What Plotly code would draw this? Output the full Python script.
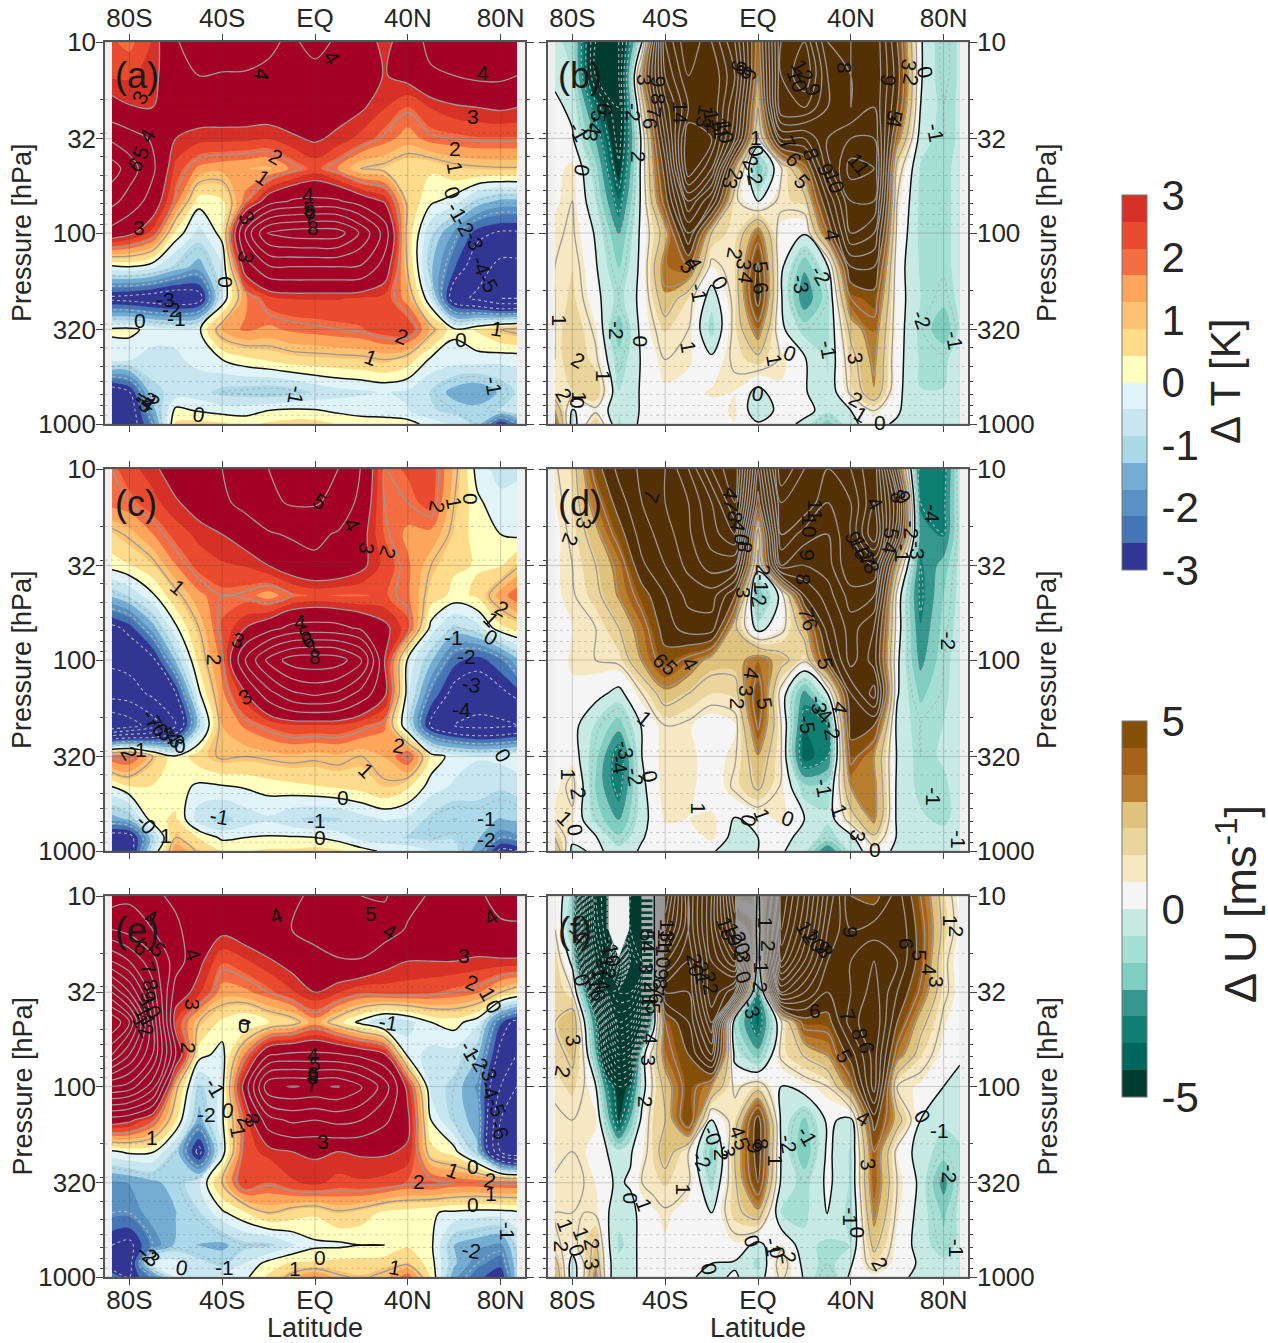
import plotly.graph_objects as go

LAT = [-87.5,-80,-70,-60,-50,-40,-30,-20,-10,0,10,20,30,40,50,60,70,80,87]
LAT_F = [-87.5,-80,-75,-70,-65,-60,-55,-50,-45,-40,-30,-20,-10,0,10,20,30,40,50,60,70,80,87]
PRESSURE = [10,15,22,32,46,68,100,150,220,320,460,680,850,1000]

DT_A = [
[2.2,2.0,2.6,3.95,4.3,4.4,4.3,4.1,3.9,4.2,3.9,3.6,2.7,3.6,4.2,4.4,4.5,4.5,4.4],
[2.5,2.5,2.75,3.7,4.0,3.95,3.95,3.9,3.8,3.8,3.7,3.5,2.95,3.3,3.9,4.0,4.2,4.2,4.0],
[3.3,3.05,3.0,3.4,3.5,3.5,3.5,3.5,3.5,3.4,3.3,3.1,2.6,2.1,2.6,2.9,3.0,3.1,3.0],
[4.8,4.4,3.9,3.0,2.75,2.72,2.7,2.6,2.9,3.1,2.85,2.4,1.9,1.5,1.9,2.0,2.1,2.1,2.1],
[6.5,5.5,4.2,2.4,1.6,1.4,1.3,1.2,1.8,2.3,1.7,0.9,0.8,0.5,0.5,0.8,0.9,0.95,0.95],
[5.3,4.6,3.6,1.9,0.2,0.35,1.9,3.5,4.1,4.2,4.1,3.5,2.9,0.8,0.1,-0.2,-1.0,-1.4,-1.4],
[3.6,3.2,2.4,0.3,-0.6,0.2,5.3,8.1,8.5,8.6,8.5,6.8,4.6,0.7,-0.8,-1.8,-2.8,-3.1,-3.1],
[-0.1,0.0,-0.3,-1.0,-1.5,-0.5,3.5,4.9,5.0,5.0,5.0,4.9,3.6,0.9,-1.2,-2.5,-3.5,-4.3,-4.3],
[-3.2,-3.3,-3.5,-3.7,-3.4,-0.4,1.6,2.4,2.6,2.6,2.6,2.5,2.4,1.5,-0.5,-3.6,-4.2,-5.0,-5.0],
[0.1,0.15,-0.2,-0.3,-0.1,1.4,1.8,1.6,1.8,1.9,2.0,2.1,2.4,2.5,1.2,0.1,0.5,1.0,1.2],
[-0.3,-0.4,-0.6,-0.5,-0.3,0.0,0.3,0.5,0.7,0.75,0.8,0.85,1.0,0.7,-0.1,-0.2,-0.2,-0.3,-0.3],
[-3.5,-3.0,-1.0,-0.7,-0.7,-1.0,-1.1,-1.2,-1.1,-0.8,-0.6,-0.5,-0.4,-0.5,-0.9,-1.5,-1.7,-1.2,-0.8],
[-3.5,-3.5,-1.5,0.15,-0.05,-0.2,-0.2,0.0,0.1,0.05,-0.1,-0.15,-0.2,-0.4,-0.8,-1.0,-1.1,-0.8,-0.5],
[-3.2,-3.5,-2.0,0.5,0.6,0.5,0.3,0.5,0.6,0.6,0.4,0.2,0.2,0.2,-0.2,-0.5,-1.0,-3.0,-2.0],
]

DU_B = [
[-0.5,-1.0,-6,-6,0.0,11,14,12,9,3.5,11,12,8,8,9,5,0.1,-1.2,-0.6],
[-0.2,-0.7,-6,-6,3,10,13,13,10,3,11,13,9,8,9,5.5,0.1,-1.2,-0.6],
[0.2,-0.2,-3.5,-6,1.5,8.5,12,13,9,2,11,11,9,8,9,5,0,-1,-0.6],
[0.6,0.1,-2.2,-5.5,0.3,7,14,13,8,0.8,7,7,9,10,10,3.5,-0.4,-1,-0.6],
[0.5,0.9,-1.2,-4.8,0.4,5.5,14,11,3,-2,0.9,3.5,8.5,11.5,11,1.5,-0.8,-0.9,-0.5],
[0.6,1.0,-0.7,-3.5,0.3,4.5,10,7,1.2,-0.1,1.3,1.6,6,10,10,1,-0.9,-0.9,-0.5],
[0.9,1.1,-0.1,-2.2,0.3,2.5,7,2.0,1.1,3.5,0.4,0.1,4,9,8,0.7,-0.9,-0.9,-0.5],
[1,1.4,0.1,-1.5,0.3,3.5,4,0.7,1.4,5.2,0.2,-2,-0.1,6,6,0.4,-0.8,-0.9,-0.5],
[1,1.6,0.3,-1,0.3,2.7,1.4,-0.5,1.3,5.5,0.1,-2.8,-1,4,4.6,0.4,-0.7,-1.2,-0.5],
[1,2,0.8,-1.8,0.3,1.5,1.0,-1.0,1.3,3.5,0.2,-1,-0.9,2.3,3.6,0.4,-0.9,-2,-0.6],
[1,2,1.2,-1.2,0.1,1.0,0.8,0.2,1.2,1.7,0.9,0.1,-0.8,1.6,3.2,0.3,-0.8,-0.8,-0.5],
[1.3,1.4,2,-0.7,0.1,0.6,0.5,0.8,0.7,-0.3,0.6,0.1,-0.7,1.2,2.8,0.2,-0.7,-0.7,-0.4],
[3,-0.1,0.8,-0.7,0.1,0.1,0.4,0.5,0.8,-0.6,0.3,0.4,-0.5,0,1,0.1,-0.6,-0.6,-0.3],
[4,-0.5,2,-0.8,0.2,0.4,0.3,0.5,0.7,0.1,0.5,-0.3,-1.8,-0.1,0.2,-0.1,-0.5,-0.5,-0.3],
]

DT_C = [
[2.0,2.4,2.8,3.5,3.9,4.0,4.5,5.0,5.6,5.6,5.0,3.95,2.0,2.2,2.4,1.2,-0.2,-0.6,-0.5],
[1.9,2.0,2.4,2.9,3.4,3.8,4.3,4.8,5.1,5.1,4.7,3.7,2.0,2.0,2.3,1.0,0.1,-0.3,-0.3],
[0.8,1.1,1.7,2.3,2.7,3.0,3.4,3.9,4.1,4.2,3.9,3.3,2.1,1.6,1.6,0.8,0.2,0.0,-0.1],
[0.2,0.4,0.8,1.7,2.3,2.5,2.6,3.0,3.5,3.8,3.7,3.2,2.4,1.8,1.0,0.5,0.4,0.4,0.9],
[-1.2,-0.8,-0.1,0.8,1.6,2.0,1.9,1.5,2.0,2.2,2.1,2.1,2.2,1.8,0.7,0.3,0.5,1.5,2.0],
[-3.2,-2.8,-1.5,-0.1,1.0,2.2,3.0,3.6,4.3,4.4,4.3,3.8,3.2,2.3,-0.2,-1.0,-0.6,0.3,0.6],
[-3.8,-3.6,-3.2,-1.2,0.6,1.9,5.0,7.3,8.5,8.7,8.5,7.2,3.0,-0.1,-1.2,-2.4,-2.8,-2.2,-1.4],
[-4.6,-4.5,-3.8,-3.0,-0.1,1.6,2.9,4.6,5.8,6.2,5.8,4.6,3.2,-0.3,-2.2,-3.3,-3.4,-3.2,-2.8],
[-7.0,-6.5,-5.5,-4.0,-1.0,1.3,1.8,2.2,2.5,2.5,2.5,2.2,1.8,-0.6,-3.2,-4.0,-4.3,-4.2,-4.0],
[2.1,2.2,1.0,0.1,0.7,1.1,1.0,1.1,1.2,1.1,1.2,1.0,1.3,2.2,0.3,-0.2,-0.4,-0.3,-0.1],
[0.0,0.4,0.4,0.2,-0.1,-0.05,0.05,0.2,0.3,0.4,0.5,0.6,0.9,0.5,-0.2,-0.5,-0.6,-0.8,-0.7],
[-1.5,-1.2,0.3,0.5,-0.7,-1.0,-0.7,-0.5,-0.8,-0.95,-0.9,-0.6,-0.4,-0.5,-1.0,-1.3,-1.2,-1.3,-1.2],
[-3.5,-3.4,-1.0,1.0,0.4,-0.1,0.0,0.05,0.05,0.0,-0.2,-0.6,-0.7,-0.9,-1.0,-0.9,-1.2,-2.0,-1.8],
[-3.5,-3.5,-0.5,1.6,0.9,0.4,0.4,0.5,0.5,0.6,0.5,0.2,-0.1,-0.1,-0.4,-0.7,-1.5,-3.2,-3.0],
]

DU_D = [
[0.9,1.5,4.5,6.3,7.2,8,10,13,15,6,14,12,11,12,14,5,-3.5,-3.5,-0.4],
[0.7,1.4,3.5,5.5,7,8,9,11,14,4.5,12,12,10,11,14,8,-3,-3.2,-0.5],
[0.5,1.2,2.6,4.5,6.5,7.5,8.8,10.5,12,1.5,11,9.5,9,11,15,7,-2.5,-3,-0.6],
[0.6,1.0,2.0,3.3,5.8,7,8.3,9.5,9,0.5,9,8,8.5,11,11,2.5,-3,-1.8,-0.5],
[0.6,0.9,1.7,3,4.5,6,7.3,7.5,5,-2,0.3,6,7.5,9.5,9,0.6,-3.2,-1.4,-0.5],
[0.5,0.7,1.0,2.0,3.5,5.5,6.5,6.5,2.2,-0.4,0.7,2.5,6.5,8.5,7,0.5,-2.8,-1.2,-0.4],
[0.4,0.8,1.0,1.2,3,4.6,3.7,2.5,2.4,3.5,2.4,1.2,5,8.5,6.5,0.2,-2.4,-1.0,-0.3],
[0.2,0.6,0.3,-0.3,1.0,2.6,2.0,1.4,1.6,4.7,0.6,-2.5,0,6,8.5,0.1,-1.6,-0.9,-0.3],
[0.1,0.3,-0.8,-1.8,0.1,1.0,0.8,0.3,0.6,4.2,1.0,-3.5,-3.0,5.5,5,-0.3,-1,-0.7,-0.3],
[0.1,0.5,-1.2,-3.6,0.0,1.0,0.9,0.4,0.9,2.8,1.0,-4,-3,4.4,3,-0.1,-1.0,-0.6,-0.3],
[0.5,1.3,-1.5,-3.4,-0.2,1.0,1.0,0.1,1.2,2.2,0.9,-1.2,-1,3,3.3,-0.2,-0.9,-0.9,-0.3],
[0.9,0.8,-1,-2.2,-0.3,0.8,0.7,0.9,-0.1,0.3,0.9,0,-0.6,1.5,3.2,-0.2,-0.6,-0.9,-0.4],
[2,0.3,0.1,-1.3,-0.05,0.4,0.2,0.9,-0.4,0.0,0.3,-0.3,-1.0,-0.3,1.8,-0.1,-0.5,-0.4,-0.2],
[3,-0.3,0.2,-0.4,0.1,0.2,0.1,0.1,-0.5,0.0,0.1,-0.5,-3,-0.5,0.5,-0.2,-0.4,-0.5,-0.2],
]

DT_E = [
[4.5,4.8,4.1,3.9,3.9,4.0,4.0,3.8,3.8,4.2,4.7,5.0,5.1,4.3,3.9,3.8,3.9,4.2,4.3],
[6.0,5.6,5.0,4.1,3.7,3.2,3.5,3.8,4.0,4.2,4.7,4.9,4.5,3.9,3.7,3.6,3.6,3.9,3.9],
[9.0,8.0,6.3,4.5,3.2,2.2,2.5,2.9,3.3,3.8,3.9,3.9,3.3,3.0,3.0,3.0,2.9,2.9,2.9],
[13.0,11.0,7.5,3.5,2.7,1.5,1.6,2.0,2.5,3.0,2.6,2.2,2.3,2.3,2.2,2.0,1.8,1.0,0.6],
[17.0,15.0,9.0,2.5,1.0,0.3,-0.1,0.4,0.7,1.5,0.6,-0.2,-0.9,-0.6,0.0,0.2,-0.3,-2.5,-3.3],
[14.0,12.0,9.0,4.0,0.2,-0.2,1.8,3.9,4.2,4.2,4.1,3.7,3.1,-0.2,-0.6,-0.6,-1.2,-3.3,-4.0],
[9.0,8.6,6.5,1.2,-1.0,-0.2,3.5,7.8,8.05,7.9,8.05,7.2,5.5,2.7,-0.6,-1.0,-1.8,-4.0,-5.0],
[3.5,3.2,2.2,0.5,-1.5,-0.1,2.3,4.6,5.2,5.0,5.3,5.0,4.2,3.2,0.0,-1.0,-1.5,-5.0,-5.0],
[-0.1,0.1,0.05,-1.0,-3.3,-0.3,2.4,2.7,3.0,3.1,3.0,3.1,3.1,2.9,0.6,0.2,-1.2,-5.0,-6.0],
[-1.8,-1.7,-1.4,-1.1,-0.5,1.0,2.6,2.1,2.5,2.7,2.4,2.5,2.4,2.1,2.2,2.0,2.0,2.1,2.1],
[-2.0,-2.0,-1.5,-1.3,-0.9,-0.1,0.4,1.0,0.7,0.5,0.9,0.7,0.3,0.2,0.05,-0.1,-0.2,-0.2,-0.1],
[-3.0,-3.2,-2.0,-1.2,-1.3,-1.4,-1.0,-1.0,-0.5,-0.1,-0.1,0.0,0.0,0.35,0.1,-1.3,-1.6,-1.8,-0.8],
[-3.8,-3.3,-0.2,-0.2,-0.7,-1.0,-0.4,0.2,0.5,0.5,0.6,0.6,0.7,0.9,0.2,-1.2,-2.0,-2.4,-1.0],
[-2.0,-3.0,-2.0,-0.4,-0.6,-0.4,-0.1,0.5,1.2,1.8,1.1,0.9,1.2,2.0,0.4,-1.6,-2.4,-3.0,-1.0],
]

DU_F = [
[0.8,-1,-10,-18,-20,None,-20,-20,-1,16,9,14,22,-1.0,18,14,9,5,4.5,6.5,4,1.5,0.5],
[1,-1.5,-11,-17,-20,None,-20,-20,-1,14,9,14,20,-1.5,17,13,8,6,6.5,7,4.5,1.7,0.6],
[1.7,-0.3,-8,-15,-18,-8,-18,-20,-1,10,8,13,16,-1,15,11,7,7,8,7,4.5,1.2,0.4],
[2,1,-2,-10,-16,-18,-18,-15,-0.5,7,7,13,10,-3,10,8,6,7,8.5,6,3.8,1.2,0.5],
[2,2.8,0.2,-3,-10,-15,-14,-10,-0.5,4,6,11,-1,-3.8,0.9,4.5,4.5,7.5,9,5,2.4,0.8,0.3],
[1.6,2.3,0.9,-2,-7,-10,-9,-0.5,1.5,3.5,5,8,-0.3,-1.8,1.2,2.1,3,5.5,8.5,3.5,1.5,0.5,0.2],
[1.2,1.6,1.0,0.1,-3,-5,-4,-0.5,1.2,2.3,4.6,3,0.8,1.5,0,0.5,1.0,3.5,8.5,1.0,0.6,0.0,-0.4],
[0.8,1.0,1.0,0.9,-1.5,-4.5,-2,0.3,1.5,2,5,0.0,1.4,5.5,-0.2,-1.6,0.2,-0.3,5.5,2.5,0,-0.6,-0.5],
[0.8,1.0,0.8,0.3,0.0,-0.5,-0.1,0.6,1.5,2.6,1.0,-1.7,2,5.6,-0.1,-2,0.2,-0.8,4,0.7,-0.4,-1.0,-0.8],
[1.1,1.3,1.0,0.7,0.1,-0.1,0.1,1.0,1.3,1.5,1.1,-1.0,1.8,5,-0.2,-1,0.2,-0.8,3.9,1.0,-0.2,-2.5,-0.7],
[1.0,1.0,1.0,0.9,0.1,-0.6,-0.3,0.3,0.6,0.9,0.3,0,1.7,2.6,-0.8,-0.9,0.1,-1,3.3,0.8,-0.3,-1.6,-0.5],
[1.2,0.6,1.5,2.2,0.2,-0.8,-0.6,0.5,0.6,0.6,0.0,0.5,0.6,-0.3,0.8,-0.5,-0.9,-0.7,2.3,0.5,-0.3,-1.2,-0.5],
[2.5,-0.5,1.0,2.8,0.3,-0.6,-0.5,0.4,0.5,0.5,0.1,0,-0.1,-0.9,1.5,-0.3,-1,-0.1,1.5,0.4,-0.1,-0.5,-0.3],
[3,-0.6,1.0,3.4,0.3,-0.6,-0.5,0.4,0.5,0.7,0.1,-0.2,0.1,-0.5,1.2,-0.1,-1.5,0.2,0.5,0.1,-0.1,-0.3,-0.2],
]

# contour labels: latitude, log10(pressure), text, rotation
LABELS_A = [(-75.5,1.29,"3",-60),(-72.5,1.49,"4",-60),(-75,1.58,"5",-70),(-77.5,1.64,"6",-50),(-76,1.97,"3",0),
(-17,1.60,"2",30),(-22.5,1.71,"1",35),(-23,1.17,"4",100),(7.3,1.08,"4",60),(72.4,1.16,"4",0),(68,1.39,"3",0),
(60.5,1.56,"2",0),(60.5,1.66,"1",80),(59,1.79,"0",70),(61,1.89,"-1",60),(64.6,1.965,"-2",60),(68.6,2.04,"-3",70),
(71.6,2.17,"-4",70),(74.6,2.26,"-5",60),(-3,1.80,"4",0),(-2.4,1.87,"5",0),(-2,1.89,"6",0),(-2,1.91,"7",0),(-0.8,1.97,"8",0),
(-29.4,1.92,"3",60),(-30,2.13,"3",100),(-38.6,2.26,"0",90),(-64.6,2.35,"-3",0),(-61.7,2.40,"-2",0),(-59.6,2.45,"-1",0),
(-75.5,2.46,"0",0),(37.4,2.54,"2",20),(24,2.65,"1",20),(63,2.56,"0",0),(78.3,2.50,"1",10),(-8,2.85,"-1",100),
(-50,2.95,"0",10),(76.8,2.80,"-1",80),(-72.5,2.86,"-3",40),(-71,2.87,"-2",40),(-73,2.88,"-4",40),(-74,2.89,"-5",40)]

LABELS_B = [(-66,1.335,"-6",100),(-68.5,1.37,"-5",100),(-70,1.44,"-4",100),(-72,1.475,"-3",100),(-77.4,1.47,"-1",60),(-76,1.67,"0",100),
(-49,1.2,"3",90),(-42.5,1.21,"9",90),(-43,1.30,"8",90),(-44.7,1.37,"7",90),(-46,1.43,"6",90),(-53.6,1.37,"-2",90),(-51.4,1.6,"2",90),
(-33.6,1.37,"14",90),(-23,1.39,"13",100),(-19.5,1.415,"12",80),(-16.5,1.45,"11",80),(-14.3,1.47,"10",80),(-8.3,1.125,"9",100),(-6,1.15,"8",100),(-3.9,1.17,"6",100),
(-0.9,1.5,"1",0),(-0.9,1.57,"0",80),(-3,1.63,"2",60),(-1.6,1.70,"-2",80),(-9.8,1.695,"2",100),(-12,1.74,"3",100),
(19,1.15,"12",60),(17,1.2,"10",70),(23.6,1.25,"9",70),(37,1.135,"8",90),(13,1.53,"7",60),(23,1.59,"8",70),(15.5,1.615,"6",50),(29,1.67,"9",70),(19,1.73,"5",50),(33,1.73,"10",70),(43.7,1.64,"11",50),
(56.3,1.2,"9",100),(65,1.12,"3",100),(66,1.2,"2",100),(72,1.16,"0",80),(59,1.39,"5",100),(59,1.42,"4",100),(76.4,1.475,"-1",80),
(31.8,2.01,"4",80),(-9.8,2.11,"2",100),(-6,2.165,"3",100),(-5.3,2.235,"4",100),(1.3,2.18,"5",80),(1.3,2.29,"6",80),(-30,2.175,"5",50),(-27.6,2.16,"4",60),(-16.5,2.26,"0",60),(-25.4,2.31,"-1",80),
(18.4,2.27,"-3",80),(27.3,2.22,"-2",60),(70.4,2.455,"-2",70),(84.5,2.56,"-1",80),(30.3,2.61,"-1",80),(14,2.63,"0",20),(7.3,2.665,"1",80),(-30,2.6,"1",80),(42.2,2.655,"3",80),(42.2,2.87,"2",30),(44.4,2.95,"1",30),(52.6,2.99,"0",0),(0,2.84,"0",10),
(-61,2.51,"-2",90),(-50.7,2.57,"0",90),(-77.4,2.67,"2",30),(-85.6,2.46,"1",90),(-66.3,2.75,"1",90),(-83.4,2.85,"2",60),(-76.7,2.86,"1",90),(-78,2.89,"0",90)]

LABELS_C = [(2.2,1.17,"5",30),(15.8,1.29,"4",60),(22.3,1.415,"3",100),(31.6,1.44,"2",110),(52.7,1.2,"2",100),(60,1.18,"1",80),(67,1.16,"0",90),
(-59,1.62,"1",40),(80.5,1.73,"2",30),(76,1.79,"1",45),(76,1.88,"0",30),(59.6,1.88,"-1",0),(65.4,1.98,"-2",0),(67.5,2.13,"-3",10),(63,2.26,"-4",0),
(-6.5,1.8,"4",0),(-4.3,1.86,"5",-20),(-3,1.9,"6",-30),(-0.7,1.93,"7",-40),(0,1.98,"8",0),(-33,1.9,"3",20),(-43,2.0,"2",90),(-30,2.19,"3",-30),
(-70,2.31,"-7",60),(-67.5,2.35,"-6",60),(-64.7,2.375,"-5",60),(-62,2.39,"-4",60),(-60,2.41,"-3",60),(-58,2.45,"0",0),(-80,2.49,"2",60),(-75,2.47,"1",0),
(36,2.45,"2",10),(22,2.58,"1",45),(12,2.72,"0",0),(81,2.5,"0",60),(-41,2.82,"-1",10),(0.7,2.84,"-1",0),(74,2.83,"-1",0),(74,2.94,"-2",0),(2,2.93,"0",0),(-72.5,2.86,"-0",45),(-64,2.92,"1",0)]

LABELS_D = [(-75,1.285,"3",100),(-81,1.37,"2",110),(-46,1.145,"7",110),(-12,1.13,"4",100),(-11.4,1.19,"7",100),(-10,1.25,"8",100),(-8.5,1.30,"4",100),(-7,1.37,"0",100),(-5.6,1.41,"8",100),
(25,1.215,"11",90),(22.4,1.30,"10",90),(21,1.45,"9",90),(19.5,1.58,"8",90),(21,1.755,"7",80),(22.4,1.815,"6",70),(28.9,2.02,"5",80),(35.3,2.25,"4",100),
(-42,2.0,"6",45),(-38,2.04,"5",45),(-29.3,2.02,"4",60),(-2.7,2.07,"4",100),(-4.9,2.16,"3",90),(-9,2.23,"2",90),(2.7,2.23,"5",80),(-48.7,2.305,"1",40),
(-6.3,1.65,"3",90),(0,1.67,"-2",80),(1.5,1.6,"-1",90),(2.3,1.53,"2",90),(26,2.235,"-3",80),(28,2.28,"-4",45),(21,2.34,"-5",80),(31.7,2.37,"-2",80),(28.2,2.67,"-1",80),(35,2.79,"1",70),(13,2.83,"0",20),(-4,2.84,"0",100),(1.6,2.81,"1",70),
(-57.3,2.47,"-3",80),(-59.5,2.55,"-4",80),(-53,2.61,"-2",80),(-46.6,2.61,"0",80),(-77.4,2.70,"2",80),(-81.8,2.6,"1",90),(-83,2.83,"1",45),(-79,2.89,"0",80),
(-25.7,2.78,"1",90),(82,1.9,"-2",90),(75,1.23,"-4",90),(66.2,1.32,"-2",90),(69,1.425,"-3",90),(75.6,2.715,"-1",90),(86.4,2.94,"-1",90),(43,2.92,"3",100),(50.4,2.99,"0",0),
(50.4,1.18,"4",60),(60.5,1.145,"8",60),(62.6,1.15,"9",60),(57.6,1.337,"5",100),(56.9,1.415,"4",100),(62.6,1.44,"-1",90),(41,1.36,"9",70),(44,1.41,"16",70),(46,1.45,"17",70),(48,1.485,"18",70)]

LABELS_E = [(-70.5,1.115,"4",20),(-67.6,1.28,"5",45),(-75,1.27,"6",30),(-72,1.38,"7",70),(-71,1.47,"8",80),(-72,1.53,"9",80),(-71,1.58,"10",60),(-73,1.63,"11",60),(-74,1.68,"12",60),
(-52.4,1.31,"4",70),(-53,1.57,"3",90),(-54.6,1.80,"2",90),(-17,1.1,"4",-20),(24,1.09,"5",0),(32.3,1.185,"4",30),(76,1.11,"4",-30),(64.2,1.31,"3",0),(67.5,1.455,"2",20),(74.7,1.515,"1",60),(77,1.58,"0",60),
(-30.6,1.68,"0",0),(31.6,1.665,"-1",10),(66.8,1.81,"-1",60),(70.4,1.87,"-2",60),(74.7,1.92,"-3",70),(75.4,2.02,"-4",70),(78.3,2.11,"-5",70),(79.7,2.23,"-6",70),
(-43,2.005,"-1",60),(-46.7,2.145,"-2",0),(-37.4,2.125,"0",10),(-33,2.24,"1",80),(-30,2.18,"2",60),(-27,2.18,"3",60),(-0.7,1.83,"4",0),(0,1.88,"5",0),(-0.7,1.93,"6",0),(-0.7,1.95,"8",0),(-1.4,1.99,"7",0),
(3.6,2.29,"3",0),(-70.4,2.27,"1",0),(68,2.42,"0",0),(59.6,2.44,"1",20),(75.4,2.495,"2",10),(76,2.56,"1",0),(45,2.5,"2",0),(68,2.62,"0",0),(83,2.76,"-1",90),(67.5,2.86,"-2",10),(2,2.90,"0",0),(-8.6,2.955,"1",0),(34.5,2.95,"1",10),(-39,2.95,"-1",0),(-57.5,2.95,"0",10),(-72,2.88,"-2",40),(-71,2.89,"-3",40)]

LABELS_F = [(-78,1.2,"-4",40),(-76,1.44,"0",70),(-63,1.29,"-10",80),(-65,1.36,"-12",80),(-67.4,1.42,"-14",80),(-69.5,1.47,"-16",80),
(-47.3,1.21,"5",90),(-47.3,1.27,"4",90),(-48,1.375,"3",90),(-46,1.48,"2",90),(-47,1.55,"1",90),(-45,1.59,"5",90),(-44,1.54,"6",90),(-43,1.5,"7",90),(-42,1.46,"8",90),(-41.5,1.41,"9",90),(-41,1.32,"10",90),(-40,1.23,"11",90),(-39,1.18,"13",90),
(-46.6,1.75,"4",90),(-47.3,1.865,"3",90),(-48.7,2.08,"2",90),(-27,1.36,"20",80),(-24,1.40,"21",80),(-21,1.455,"22",80),(-13.5,1.17,"18",70),(-10.6,1.2,"19",70),(-7.7,1.246,"20",70),(-7,1.31,"2",90),(-6.3,1.325,"3",90),
(3,1.14,"1",90),(4.4,1.264,"2",90),(1.6,1.36,"-1",90),(0.9,1.48,"2",90),(-6.3,1.43,"0",70),(-2.7,1.595,"-3",70),(21.4,1.19,"12",60),(24.3,1.23,"10",60),(27.9,1.27,"9",60),(29.3,1.29,"8",60),(24.6,1.6,"6",0),(40,1.19,"9",90),
(64,1.25,"6",90),(70,1.315,"5",90),(74,1.385,"4",90),(77,1.45,"3",90),(82.8,1.13,"1",90),(85.6,1.185,"2",90),(38.9,1.63,"7",70),(44,1.725,"8",80),(46.8,1.795,"6",80),(37.5,1.84,"5",60),(45.4,2.17,"4",30),(47.5,2.41,"3",80),
(71,2.155,"0",60),(78.3,2.23,"-1",0),(82.6,2.46,"-2",90),(85.6,2.85,"-1",90),(39.5,2.685,"-1",90),(43,2.765,"0",90),(52.4,2.93,"2",60),(21.4,2.26,"-1",60),(13,2.3,"-2",80),(7.3,2.39,"1",90),(1.6,2.3,"8",90),(-1.3,2.32,"9",80),
(-12.6,2.34,"3",90),(-15.5,2.36,"2",90),(-8.5,2.24,"4",70),(-7,2.3,"5",70),(-19.4,2.26,"-0",70),(-24.4,2.39,"-2",60),(-32,2.54,"1",90),(-55,2.59,"0",90),(-49.2,2.62,"1",70),
(-79.6,1.76,"3",80),(-84,1.925,"2",100),(-83,2.73,"1",70),(-84.5,2.84,"2",90),(-76,2.77,"1",70),(-71.7,2.825,"2",80),(-71.7,2.93,"3",80),(-78,2.86,"0",70),(-21,2.96,"0",80),(-2.7,2.81,"0",70),(6.5,2.84,"-1",80),(8.5,2.87,"0",80),(13,2.90,"2",80)]

T_COLORS = ["#313695","#313695","#4575b4","#5a91c3","#74add1","#abd9e9","#c8e6f0","#e0f3f8",
            "#ffffbf","#fedc8c","#fdc373","#fda55a","#f46d43","#ea4a2e","#d73027","#a50026"]
U_COLORS = ["#003c30","#003c30","#01665e","#0f7f73","#35978f","#80cdc1","#a6e0d5","#c7eae5",
            "#f5f5f5","#f6e8c3","#ebd59c","#dfc27d","#b87d2d","#a6611a","#85500a","#543005"]

X_TICKS = [-80,-40,0,40,80]
X_TEXT = ["80S","40S","EQ","40N","80N"]
Y_TICKS = [10,32,100,320,1000]
Y_MINOR = [20,30,40,50,60,70,80,90,200,300,400,500,600,700,800,900]
INK = "#262626"
FONT = "Liberation Sans"
W, H = 1268, 1343
ROWS = [(42,424),(469,851),(896,1277)]
COLS = [(105,525),(548,968)]


def scale(colors):
    n = len(colors) - 1
    return [[i / n, c] for i, c in enumerate(colors)]


def steps(colors):
    n = len(colors)
    out = []
    for i, c in enumerate(colors):
        out += [[i / n, c], [(i + 1) / n, c]]
    return out


panels = [("(a)",DT_A,LABELS_A,0,0,LAT),("(b)",DU_B,LABELS_B,1,0,LAT),("(c)",DT_C,LABELS_C,0,1,LAT),
          ("(d)",DU_D,LABELS_D,1,1,LAT),("(e)",DT_E,LABELS_E,0,2,LAT),("(f)",DU_F,LABELS_F,1,2,LAT_F)]

fig = go.Figure()
anns = []
for k, (tag, z, labels, col, row, lats) in enumerate(panels, start=1):
    xa, ya = f"x{k}", f"y{k}"
    is_t = col == 0
    colors = T_COLORS if is_t else U_COLORS
    size = 3/7 if is_t else 10/14
    top = 3 if is_t else 5
    if k <= 2:
        # a small cell hidden under the contour fill: it only carries the colour bar
        cb = dict(lenmode="pixels", len=375 if is_t else 376, thicknessmode="pixels", thickness=25,
                  x=1122/W, xanchor="left", xpad=0, ypad=0,
                  y=1-(382.5/H if is_t else 909/H), yanchor="middle",
                  tickmode="array", tickvals=[-3,-2,-1,0,1,2,3] if is_t else [-5,0,5],
                  ticktext=["-3","-2","-1","0","1","2","3"] if is_t else ["-5","0","5"],
                  ticks="outside", ticklen=6, tickcolor="rgba(0,0,0,0)",
                  tickfont=dict(family=FONT, size=42, color=INK),
                  outlinecolor="#777", outlinewidth=1)
        fig.add_trace(go.Heatmap(x=[0, 2], y=[100, 110], z=[[-top, top], [-top, top]], zmin=-top, zmax=top,
                                 xaxis=xa, yaxis=ya, colorscale=steps(colors[1:-1]),
                                 showscale=True, colorbar=cb, hoverinfo="skip"))
    fig.add_trace(go.Contour(x=lats, y=PRESSURE, z=z, xaxis=xa, yaxis=ya, autocontour=False,
                             contours=dict(start=-top, end=top+1e-5, size=size, coloring="fill", showlines=False),
                             colorscale=scale(colors), line=dict(width=0, smoothing=1),
                             showscale=False, hoverinfo="skip"))
    fig.add_trace(go.Contour(x=lats, y=PRESSURE, z=z, xaxis=xa, yaxis=ya, autocontour=False,
                             contours=dict(start=1, end=40, size=1, coloring="none"),
                             line=dict(color="#9a9a9a", width=1.3, smoothing=1), showscale=False, hoverinfo="skip"))
    fig.add_trace(go.Contour(x=lats, y=PRESSURE, z=z, xaxis=xa, yaxis=ya, autocontour=False,
                             contours=dict(start=-40, end=-1, size=1, coloring="none"),
                             line=dict(color="#b5b5b5", width=1.1, dash="dot", smoothing=1), showscale=False, hoverinfo="skip"))
    fig.add_trace(go.Contour(x=lats, y=PRESSURE, z=z, xaxis=xa, yaxis=ya, autocontour=False,
                             contours=dict(start=0, end=0.5, size=1, coloring="none"),
                             line=dict(color="#111111", width=1.5, smoothing=1), showscale=False, hoverinfo="skip"))
    gx, gy = [], []
    for v in X_TICKS:
        gx += [v, v, None]; gy += [10, 1000, None]
    for v in Y_TICKS:
        gx += [-90.5, 90.5, None]; gy += [v, v, None]
    fig.add_trace(go.Scatter(x=gx, y=gy, xaxis=xa, yaxis=ya, mode="lines", showlegend=False, hoverinfo="skip",
                             line=dict(color="rgba(70,70,70,0.25)", width=1)))
    mx, my = [], []
    for v in Y_MINOR:
        mx += [-90.5, 90.5, None]; my += [v, v, None]
    fig.add_trace(go.Scatter(x=mx, y=my, xaxis=xa, yaxis=ya, mode="lines", showlegend=False, hoverinfo="skip",
                             line=dict(color="rgba(70,70,70,0.22)", width=1, dash="dot")))
    x0, x1 = COLS[col]
    y0, y1 = ROWS[row]
    xkey, ykey = "xaxis" if k == 1 else f"xaxis{k}", "yaxis" if k == 1 else f"yaxis{k}"
    fig.update_layout({
        xkey: dict(domain=[x0/W, x1/W], anchor=ya, range=[-90.5, 90.5], tickvals=X_TICKS,
                   ticktext=X_TEXT, showticklabels=row != 1,
                   side="top" if row == 0 else "bottom", ticks="outside", ticklen=6, tickcolor="#444",
                   ticklabelstandoff=-3 if row == 0 else -7,
                   showline=True, mirror="ticks", linecolor="#555", linewidth=1.5, showgrid=False, zeroline=False,
                   tickfont=dict(family=FONT, size=26, color=INK), tickangle=0),
        ykey: dict(domain=[1-y1/H, 1-y0/H], anchor=xa, type="log", range=[3, 1], tickvals=Y_TICKS,
                   ticktext=[str(v) for v in Y_TICKS], side="left" if col == 0 else "right",
                   ticks="outside", ticklen=7, tickcolor="#444", showline=True, mirror="ticks", linecolor="#555", linewidth=1.5,
                   ticklabelstandoff=-5,
                   showgrid=False, zeroline=False, tickfont=dict(family=FONT, size=26, color=INK),
                   minor=dict(tickvals=Y_MINOR, ticks="outside", ticklen=3, tickcolor="#444", showgrid=False)),
    })
    for lat, lp, text, ang in labels:
        anns.append(dict(x=lat, y=lp, xref=xa, yref=ya, text=text, textangle=ang, showarrow=False,
                         font=dict(family=FONT, size=21, color="#111111")))
    anns.append(dict(x=(x0+8)/W, y=1-(y0+34)/H, xref="paper", yref="paper", xanchor="left", yanchor="middle", text=tag,
                     showarrow=False, font=dict(family=FONT, size=36, color="#1a1a1a")))
    px = 22 if col == 0 else 1047
    anns.append(dict(x=px/W, y=1-((y0+y1)/2)/H, xref="paper", yref="paper", xanchor="center", yanchor="middle",
                     text="Pressure [hPa]", textangle=-90,
                     showarrow=False, font=dict(family=FONT, size=27, color=INK)))
    if row == 2:
        anns.append(dict(x=((x0+x1)/2)/W, y=1-1328/H, xref="paper", yref="paper", xanchor="center", yanchor="middle",
                         text="Latitude", showarrow=False, font=dict(family=FONT, size=27, color=INK)))

anns.append(dict(x=1225/W, y=1-382/H, xref="paper", yref="paper", xanchor="center", yanchor="middle",
                 text="Δ T [K]", textangle=-90, showarrow=False, font=dict(family=FONT, size=42, color=INK)))
anns.append(dict(x=1237/W, y=1-904/H, xref="paper", yref="paper", xanchor="center", yanchor="middle",
                 text="Δ U [ms<sup>-1</sup>]", textangle=-90, showarrow=False, font=dict(family=FONT, size=45, color=INK)))

fig.update_layout(width=W, height=H, margin=dict(l=0, r=0, t=0, b=0, autoexpand=False), paper_bgcolor="white", plot_bgcolor="#f0f0f0",
                  showlegend=False, annotations=anns)
fig.write_html("out.html", post_script="document.body.style.margin='0';", config={"displayModeBar": False})
